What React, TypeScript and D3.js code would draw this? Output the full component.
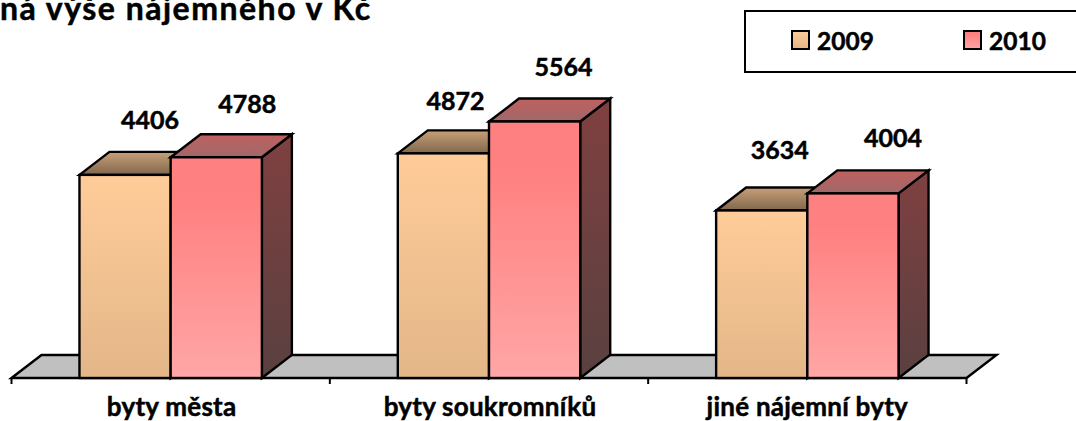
import React from "react";
import * as d3 from "d3";

const categories = ["byty města", "byty soukromníků", "jiné nájemní byty"];
const seriesNames = ["2009", "2010"];
const values2009 = [4406, 4872, 3634];
const values2010 = [4788, 5564, 4004];
const titleText = "ná výše nájemného v Kč";

const W = 1076, H = 421;
const DX = 30, DY = -23;
const FONT = "Lato, Carlito, sans-serif";

// hand-placed data label nudges, as the original chart had them
const labelNudgeX = [[0, 6], [-13, 4], [-7, 15]];
const labelNudgeY = [[0, 2], [3, 0], [-5, 0]];

const x0 = d3.scaleBand<string>().domain(categories).range([11.5, 966.5]).paddingInner(0.427).paddingOuter(0.2135);
const x1 = d3.scaleBand<string>().domain(seriesNames).range([0, x0.bandwidth()]);
const y = d3.scaleLinear().domain([0, 5564]).range([378, 121.5]);

const palette = [
  { front: ["#FFCC99", "#E3B688"], frontStops: [0, 1], top: ["#C8A078", "#80674C"], side: ["#7F6650", "#5C4A3A"], id: "a" },
  { front: ["#FF8080", "#FF8080", "#FFA6A6"], frontStops: [0, 0.18, 1], top: ["#C06060", "#A06868"], side: ["#804040", "#5A4040"], id: "b" },
];

function Grad({ id, colors, stops }: { id: string; colors: string[]; stops?: number[] }) {
  return (
    <linearGradient id={id} x1="0" y1="0" x2="0" y2="1">
      {colors.map((c, i) => (
        <stop key={i} offset={stops ? stops[i] : i / (colors.length - 1)} stopColor={c} />
      ))}
    </linearGradient>
  );
}

function Bar({ x, w, v, s }: { x: number; w: number; v: number; s: number }) {
  const top = y(v), base = y(0);
  const p = palette[s];
  const pts = (a: number[][]) => a.map((d) => d.join(",")).join(" ");
  const stroke = { stroke: "#000", strokeWidth: 2.4, strokeLinejoin: "miter" as const };
  return (
    <g>
      <polygon points={pts([[x + w, top], [x + w + DX, top + DY], [x + w + DX, base + DY], [x + w, base]])} fill={`url(#side${p.id})`} {...stroke} />
      <polygon points={pts([[x, top], [x + DX, top + DY], [x + w + DX, top + DY], [x + w, top]])} fill={`url(#top${p.id})`} {...stroke} />
      <rect x={x} y={top} width={w} height={base - top} fill={`url(#front${p.id})`} {...stroke} />
    </g>
  );
}

const boldText = { fontFamily: FONT, fontWeight: 700, fill: "#000", stroke: "#000", strokeWidth: 0.5 };

export default function App() {
  const base = y(0);
  const [rx0, rx1] = x0.range();
  const ticks = [...categories.map((c) => x0(c)! - x0.step() * 0.2135), rx1];
  return (
    <svg width={W} height={H} viewBox={`0 0 ${W} ${H}`} style={{ position: "absolute", left: 0, top: 0, background: "#fff" }}>
      <defs>
        {palette.map((p) => (
          <React.Fragment key={p.id}>
            <Grad id={`front${p.id}`} colors={p.front} stops={p.frontStops} />
            <Grad id={`top${p.id}`} colors={p.top} />
            <Grad id={`side${p.id}`} colors={p.side} />
          </React.Fragment>
        ))}
      </defs>
      <text x={0} y={20} fontSize={32} letterSpacing={1.5} {...boldText}>{titleText}</text>

      <polygon
        points={[[rx0, base], [rx0 + DX, base + DY], [rx1 + DX, base + DY], [rx1, base]].map((d) => d.join(",")).join(" ")}
        fill="#C0C0C0" stroke="#000" strokeWidth={2.4}
      />
      {ticks.map((t, i) => (
        <line key={i} x1={t} x2={t} y1={base} y2={base + 6} stroke="#000" strokeWidth={2} />
      ))}

      {categories.map((c, i) => (
        <g key={c}>
          {[values2009[i], values2010[i]].map((v, s) => (
            <Bar key={s} x={x0(c)! + x1(seriesNames[s])!} w={x1.bandwidth()} v={v} s={s} />
          ))}
          <text x={x0(c)! + x0.bandwidth() / 2 + (i === 2 ? 0 : 1)} y={416} textAnchor="middle" fontSize={26} letterSpacing={0.25} {...boldText}>{c}</text>
        </g>
      ))}
      {categories.map((c, i) =>
        [values2009[i], values2010[i]].map((v, s) => (
          <text key={s} x={x0(c)! + x1(seriesNames[s])! + x1.bandwidth() / 2 + 25 + labelNudgeX[i][s]} y={y(v) - 46 + labelNudgeY[i][s]} textAnchor="middle" fontSize={25} {...boldText}>{v}</text>
        ))
      )}

      <rect x={745} y={11} width={340} height={61} fill="#fff" stroke="#000" strokeWidth={2} />
      {seriesNames.map((n, s) => {
        const lx = 792 + s * 172;
        return (
          <g key={n}>
            <rect x={lx} y={31} width={17} height={18} fill={`url(#front${palette[s].id})`} stroke="#000" strokeWidth={2} />
            <text x={lx + 25} y={50} fontSize={24.5} {...boldText}>{n}</text>
          </g>
        );
      })}
    </svg>
  );
}
